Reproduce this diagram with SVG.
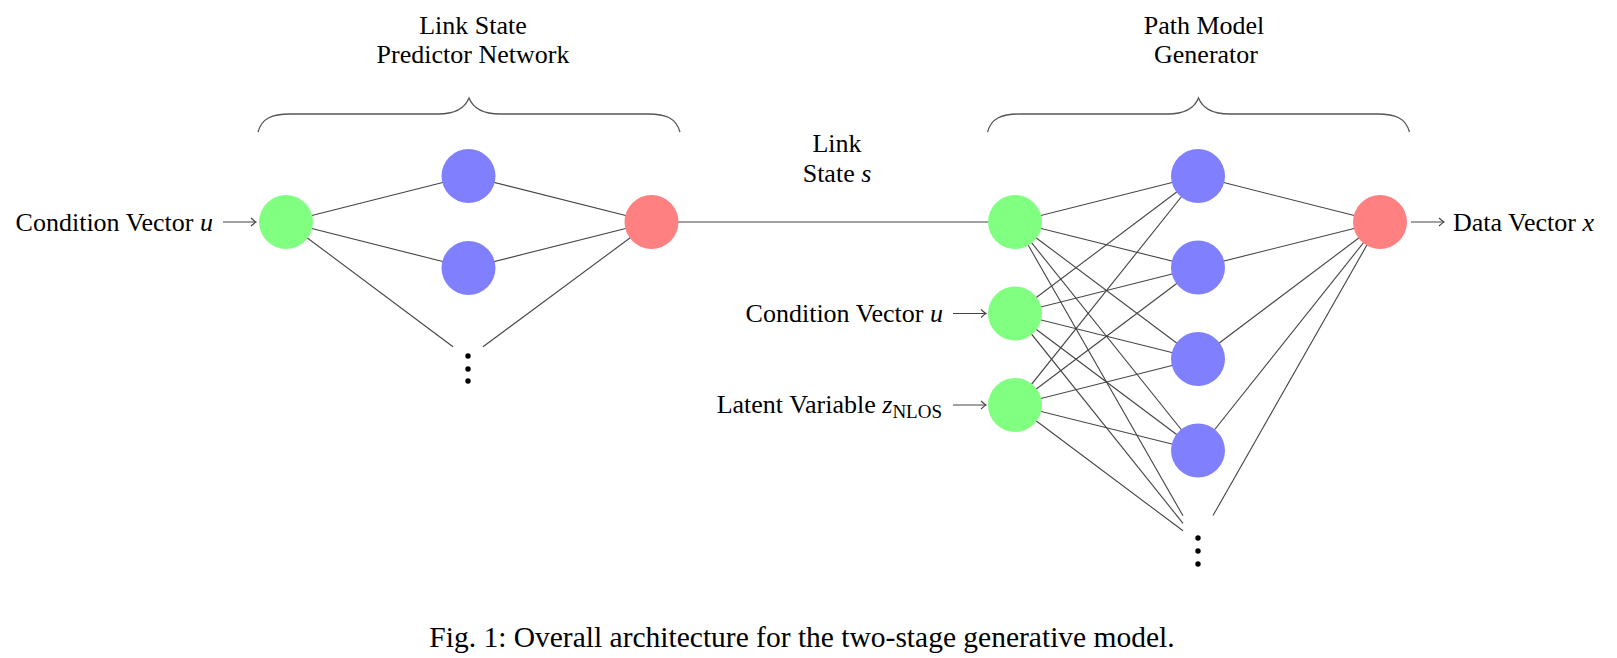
<svg xmlns="http://www.w3.org/2000/svg" width="1617" height="658" viewBox="0 0 1617 658">
<style>
text { font-family: "Liberation Serif", "Times New Roman", serif; font-size: 26px; fill: #000; }
.m { font-style: italic; }
.sub { font-size: 19px; font-style: normal; }
.c { text-anchor: middle; }
.e { text-anchor: end; }
.cap { font-size: 29.5px; }
.edge { stroke: #444; stroke-width: 1.1; fill: none; }
.arr { stroke: #444; stroke-width: 1.2; fill: none; marker-end: url(#tip); }
.brace { stroke: #555; stroke-width: 1.3; fill: none; }
.g { fill: #80ff80; }
.b { fill: #8080ff; }
.r { fill: #ff8080; }
.dot { fill: #000; }
</style>
<defs>
<marker id="tip" viewBox="-6 -5 7 10" refX="0" refY="0" markerWidth="7" markerHeight="10" markerUnits="userSpaceOnUse" orient="auto">
<path d="M-5,-4 Q-1.5,-0.8 0,0 Q-1.5,0.8 -5,4" stroke="#444" stroke-width="1.1" fill="none"/>
</marker>
<path id="bracePath" d="M258,132 C262,118 272,114 290,114 L438,114 C456,114 465,108 469,98 C473,108 482,114 500,114 L648,114 C666,114 676,118 680,132"/>
</defs>

<g id="titles">
<text class="c" x="473" y="34">Link State</text>
<text class="c" x="473" y="63">Predictor Network</text>
<text class="c" x="1204" y="34">Path Model</text>
<text class="c" x="1206" y="63">Generator</text>
<text class="c" x="837" y="152">Link</text>
<text class="c" x="837" y="182">State <tspan class="m">s</tspan></text>
</g>

<g id="braces">
<use href="#bracePath" class="brace"/>
<use href="#bracePath" class="brace" transform="translate(729.5,0)"/>
</g>

<g id="connectors">
<!-- left network -->
<line class="edge" x1="286" y1="222" x2="468.5" y2="176"/>
<line class="edge" x1="286" y1="222" x2="468.5" y2="268"/>
<line class="edge" x1="286" y1="222" x2="453" y2="346.8"/>
<line class="edge" x1="468.5" y1="176" x2="651.5" y2="222"/>
<line class="edge" x1="468.5" y1="268" x2="651.5" y2="222"/>
<line class="edge" x1="651.5" y1="222" x2="483" y2="346.8"/>
<!-- link state -->
<line class="edge" x1="651.5" y1="222" x2="1015" y2="222"/>
<!-- right network: greens to blues -->
<line class="edge" x1="1015" y1="222" x2="1198" y2="176"/>
<line class="edge" x1="1015" y1="222" x2="1198" y2="267.5"/>
<line class="edge" x1="1015" y1="222" x2="1198" y2="359"/>
<line class="edge" x1="1015" y1="222" x2="1198" y2="450.5"/>
<line class="edge" x1="1015" y1="222" x2="1183" y2="515.8"/>
<line class="edge" x1="1015" y1="313.5" x2="1198" y2="176"/>
<line class="edge" x1="1015" y1="313.5" x2="1198" y2="267.5"/>
<line class="edge" x1="1015" y1="313.5" x2="1198" y2="359"/>
<line class="edge" x1="1015" y1="313.5" x2="1198" y2="450.5"/>
<line class="edge" x1="1015" y1="313.5" x2="1183" y2="523.3"/>
<line class="edge" x1="1015" y1="405" x2="1198" y2="176"/>
<line class="edge" x1="1015" y1="405" x2="1198" y2="267.5"/>
<line class="edge" x1="1015" y1="405" x2="1198" y2="359"/>
<line class="edge" x1="1015" y1="405" x2="1198" y2="450.5"/>
<line class="edge" x1="1015" y1="405" x2="1183" y2="530.8"/>
<!-- blues to red -->
<line class="edge" x1="1198" y1="176" x2="1380" y2="222"/>
<line class="edge" x1="1198" y1="267.5" x2="1380" y2="222"/>
<line class="edge" x1="1198" y1="359" x2="1380" y2="222"/>
<line class="edge" x1="1198" y1="450.5" x2="1380" y2="222"/>
<line class="edge" x1="1380" y1="222" x2="1213" y2="515.6"/>
<!-- input / output arrows -->
<line class="arr" x1="223" y1="222" x2="256" y2="222"/>
<line class="arr" x1="953" y1="313.5" x2="986" y2="313.5"/>
<line class="arr" x1="953" y1="405" x2="986" y2="405"/>
<line class="arr" x1="1411" y1="222" x2="1444" y2="222"/>
</g>

<g id="left-input"><circle class="g" cx="286" cy="222" r="27"/></g>
<g id="left-hidden-1"><circle class="b" cx="468.5" cy="176" r="27"/></g>
<g id="left-hidden-2"><circle class="b" cx="468.5" cy="268" r="27"/></g>
<g id="left-dots"><circle class="dot" cx="468" cy="356" r="2.7"/><circle class="dot" cx="468" cy="369" r="2.7"/><circle class="dot" cx="468" cy="381" r="2.7"/></g>
<g id="left-output"><circle class="r" cx="651.5" cy="222" r="27"/></g>

<g id="right-input-1"><circle class="g" cx="1015" cy="222" r="27"/></g>
<g id="right-input-2"><circle class="g" cx="1015" cy="313.5" r="27"/></g>
<g id="right-input-3"><circle class="g" cx="1015" cy="405" r="27"/></g>
<g id="right-hidden-1"><circle class="b" cx="1198" cy="176" r="27"/></g>
<g id="right-hidden-2"><circle class="b" cx="1198" cy="267.5" r="27"/></g>
<g id="right-hidden-3"><circle class="b" cx="1198" cy="359" r="27"/></g>
<g id="right-hidden-4"><circle class="b" cx="1198" cy="450.5" r="27"/></g>
<g id="right-dots"><circle class="dot" cx="1198" cy="538" r="2.7"/><circle class="dot" cx="1198" cy="551" r="2.7"/><circle class="dot" cx="1198" cy="564" r="2.7"/></g>
<g id="right-output"><circle class="r" cx="1380" cy="222" r="27"/></g>

<g id="labels">
<text class="e" x="213" y="231">Condition Vector <tspan class="m">u</tspan></text>
<text class="e" x="943" y="322">Condition Vector <tspan class="m">u</tspan></text>
<text class="e" x="942" y="413">Latent Variable <tspan class="m">z</tspan><tspan class="sub" dy="5">NLOS</tspan></text>
<text x="1453" y="231">Data Vector <tspan class="m">x</tspan></text>
</g>

<text id="caption" class="c cap" x="802" y="647">Fig. 1: Overall architecture for the two-stage generative model.</text>
</svg>
